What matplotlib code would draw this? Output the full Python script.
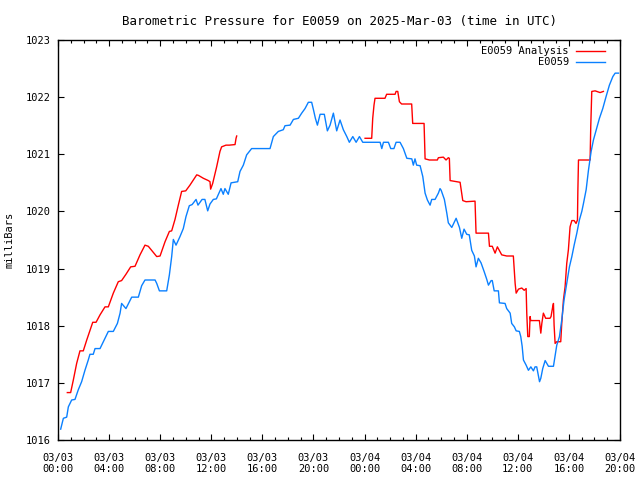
import numpy as np
import pandas as pd
import matplotlib
matplotlib.use("Agg")
import matplotlib.pyplot as plt
import matplotlib.dates as mdates

START = pd.Timestamp("2025-03-03 00:00")

# station readings (hours after 03/03 00:00 UTC, mbar)
obs_hours = [0.21, 0.42, 0.68, 0.81, 1.07, 1.33, 1.59, 1.85, 2.11, 2.37, 2.50, 2.76, 2.90, 3.29,
             3.68, 3.94, 4.33, 4.65, 4.86, 4.98, 5.32, 5.77, 6.29, 6.55, 6.81, 7.60, 7.73, 7.94,
             8.51, 8.72, 8.90, 9.03, 9.24, 9.55, 9.81, 10.02, 10.28, 10.50, 10.81, 10.96, 11.28,
             11.50, 11.72, 11.90, 12.16, 12.40, 12.76, 12.94, 13.07, 13.33, 13.55, 14.07, 14.25,
             14.51, 14.77, 15.16, 16.60, 16.86, 17.25, 17.64, 17.77, 18.17, 18.43, 18.82, 19.08,
             19.34, 19.60, 19.86, 20.00, 20.15, 20.31, 20.52, 20.85, 21.09, 21.30, 21.56, 21.82,
             22.08, 22.34, 22.61, 22.81, 23.08, 23.34, 23.60, 23.86, 25.22, 25.35, 25.48, 25.87,
             26.05, 26.30, 26.47, 26.78, 27.04, 27.31, 27.70, 27.82, 27.95, 28.08, 28.35, 28.56,
             28.74, 28.92, 29.13, 29.26, 29.52, 29.78, 29.91, 30.00, 30.25, 30.44, 30.56, 30.83,
             31.17, 31.43, 31.61, 31.79, 32.00, 32.20, 32.39, 32.60, 32.73, 32.91, 33.12, 33.36,
             33.57, 33.70, 33.91, 34.00, 34.15, 34.48, 34.56, 35.00, 35.13, 35.40, 35.52, 35.73,
             35.87, 36.12, 36.23, 36.34, 36.44, 36.65, 36.83, 37.02, 37.22, 37.35, 37.48, 37.70,
             37.80, 37.95, 38.14, 38.40, 38.79, 38.92, 39.05, 39.26, 39.44, 39.62, 39.83, 40.04,
             40.23, 40.41, 40.62, 40.82, 41.01, 41.14, 41.35, 41.53, 41.74, 41.92, 42.13, 42.39,
             42.65, 42.91, 43.17, 43.44, 43.62, 43.88]
obs_mbar = [1016.19, 1016.38, 1016.40, 1016.58, 1016.70, 1016.71, 1016.88, 1017.02, 1017.22,
            1017.40, 1017.50, 1017.50, 1017.60, 1017.60, 1017.78, 1017.90, 1017.90, 1018.04,
            1018.22, 1018.39, 1018.30, 1018.50, 1018.50, 1018.70, 1018.80, 1018.80, 1018.74,
            1018.61, 1018.61, 1018.89, 1019.21, 1019.51, 1019.41, 1019.56, 1019.70, 1019.91,
            1020.10, 1020.12, 1020.21, 1020.11, 1020.21, 1020.21, 1020.01, 1020.13, 1020.21,
            1020.22, 1020.40, 1020.30, 1020.40, 1020.30, 1020.50, 1020.52, 1020.70, 1020.81,
            1020.99, 1021.10, 1021.10, 1021.31, 1021.40, 1021.43, 1021.50, 1021.51, 1021.61,
            1021.63, 1021.72, 1021.80, 1021.91, 1021.91, 1021.78, 1021.63, 1021.51, 1021.70,
            1021.70, 1021.41, 1021.51, 1021.72, 1021.41, 1021.60, 1021.43, 1021.31, 1021.21,
            1021.31, 1021.21, 1021.31, 1021.21, 1021.21, 1021.10, 1021.21, 1021.21, 1021.10,
            1021.10, 1021.21, 1021.21, 1021.10, 1020.93, 1020.92, 1020.81, 1020.92, 1020.81,
            1020.80, 1020.61, 1020.32, 1020.20, 1020.11, 1020.21, 1020.21, 1020.32, 1020.40,
            1020.37, 1020.21, 1019.97, 1019.80, 1019.72, 1019.88, 1019.72, 1019.53, 1019.69,
            1019.60, 1019.59, 1019.32, 1019.22, 1019.03, 1019.18, 1019.10, 1018.95, 1018.81,
            1018.71, 1018.79, 1018.79, 1018.61, 1018.61, 1018.40, 1018.39, 1018.30, 1018.22,
            1018.04, 1017.98, 1017.91, 1017.90, 1017.81, 1017.64, 1017.40, 1017.31, 1017.22,
            1017.28, 1017.21, 1017.28, 1017.28, 1017.02, 1017.08, 1017.25, 1017.39, 1017.29,
            1017.29, 1017.47, 1017.66, 1017.81, 1018.10, 1018.45, 1018.74, 1019.03, 1019.21,
            1019.41, 1019.62, 1019.85, 1020.00, 1020.14, 1020.38, 1020.72, 1021.05, 1021.25,
            1021.42, 1021.63, 1021.80, 1022.01, 1022.21, 1022.36, 1022.42, 1022.42]

# analysis values, NaN marks the gap in the analysis record
ana_hours = [0.73, 0.99, 1.20, 1.46, 1.72, 1.98, 2.25, 2.51, 2.72, 2.98, 3.29, 3.68, 3.94, 4.33,
             4.72, 4.98, 5.32, 5.69, 6.03, 6.42, 6.81, 7.07, 7.73, 7.99, 8.38, 8.72, 8.90, 9.16,
             9.42, 9.68, 10.00, 10.33, 10.60, 10.86, 11.00, 11.38, 11.77, 11.90, 11.95, 12.11,
             12.42, 12.68, 12.81, 13.15, 13.41, 13.86, 13.94, 13.99, 19.00,
             24.04, 24.56, 24.64, 24.74, 24.82, 25.60, 25.73, 26.39, 26.47, 26.60, 26.73, 26.90,
             27.69, 27.77, 28.66, 28.74, 29.08, 29.70, 29.78, 30.17, 30.38, 30.56, 30.64, 30.70,
             31.48, 31.69, 31.95, 32.65, 32.73, 33.70, 33.78, 34.00, 34.22, 34.40, 34.74, 35.13,
             35.65, 35.79, 35.87, 36.05, 36.31, 36.50, 36.65, 36.70, 36.78, 36.90, 36.96, 37.01,
             37.69, 37.80, 37.88, 38.00, 38.18, 38.52, 38.60, 38.73, 38.79, 38.84, 38.92, 39.05,
             39.36, 39.44, 39.57, 39.70, 39.83, 39.96, 40.09, 40.23, 40.41, 40.56, 40.67, 40.70,
             40.75, 41.66, 41.71, 41.79, 42.05, 42.44, 42.70]
ana_mbar = [1016.83, 1016.83, 1017.05, 1017.34, 1017.56, 1017.56, 1017.75, 1017.92, 1018.06,
            1018.06, 1018.19, 1018.33, 1018.33, 1018.57, 1018.77, 1018.79, 1018.90, 1019.03,
            1019.04, 1019.24, 1019.41, 1019.39, 1019.21, 1019.22, 1019.47, 1019.65, 1019.66,
            1019.86, 1020.11, 1020.35, 1020.36, 1020.46, 1020.55, 1020.64, 1020.63, 1020.58,
            1020.54, 1020.52, 1020.39, 1020.49, 1020.78, 1021.05, 1021.13, 1021.16, 1021.16,
            1021.17, 1021.28, 1021.32, np.nan,
            1021.28, 1021.28, 1021.63, 1021.86, 1021.98, 1021.98, 1022.05, 1022.05, 1022.10,
            1022.10, 1021.92, 1021.88, 1021.88, 1021.54, 1021.54, 1020.92, 1020.90, 1020.90,
            1020.94, 1020.95, 1020.90, 1020.94, 1020.93, 1020.54, 1020.51, 1020.19, 1020.17,
            1020.18, 1019.62, 1019.62, 1019.39, 1019.39, 1019.27, 1019.38, 1019.24, 1019.22,
            1019.22, 1018.74, 1018.57, 1018.64, 1018.66, 1018.62, 1018.65, 1018.22, 1017.81,
            1017.81, 1018.16, 1018.09, 1018.09, 1017.87, 1018.04, 1018.22, 1018.13, 1018.13,
            1018.16, 1018.33, 1018.39, 1018.01, 1017.69, 1017.72, 1017.72, 1018.04, 1018.45,
            1018.68, 1019.09, 1019.33, 1019.73, 1019.84, 1019.84, 1019.79, 1019.85, 1020.35,
            1020.90, 1020.90, 1021.48, 1022.10, 1022.11, 1022.08, 1022.10]

obs_t = START + pd.to_timedelta(obs_hours, unit="h")
ana_t = START + pd.to_timedelta(ana_hours, unit="h")

plt.rcParams["font.family"] = ["DejaVu Sans Mono"]
plt.rcParams["font.size"] = 7.5

fig = plt.figure(figsize=(6.4, 4.8), dpi=100)
ax = fig.add_axes([58 / 640, 1 - 440 / 480, 562 / 640, 400 / 480])

ax.plot(ana_t, ana_mbar, color="#ff0000", lw=1.0, label="E0059 Analysis")
ax.plot(obs_t, obs_mbar, color="#0a80ff", lw=1.0, label="E0059")

ax.set_xlim(START, START + pd.Timedelta(hours=44))
ax.set_ylim(1016, 1023)
ax.set_yticks(range(1016, 1024))

ax.xaxis.set_major_locator(mdates.HourLocator(byhour=range(0, 24, 4)))
ax.xaxis.set_minor_locator(mdates.HourLocator())
ax.xaxis.set_major_formatter(mdates.DateFormatter("%m/%d\n%H:%M"))

ax.tick_params(which="both", direction="in", top=True, right=True, width=0.8, colors="black")
ax.tick_params(which="major", length=4.5, pad=5)
ax.tick_params(axis="x", which="major", pad=9)
ax.tick_params(which="minor", length=2.5)
for s in ax.spines.values():
    s.set_linewidth(1.0)

ax.set_ylabel("milliBars", labelpad=8)
ax.set_title("Barometric Pressure for E0059 on 2025-Mar-03 (time in UTC)", pad=11)

ax.legend(loc="upper right", frameon=False, markerfirst=False, handlelength=2.8,
          labelspacing=0.1, borderaxespad=0.2, handletextpad=0.7,
          bbox_to_anchor=(0.985, 1.0))

fig.savefig("out.png", dpi=100)
